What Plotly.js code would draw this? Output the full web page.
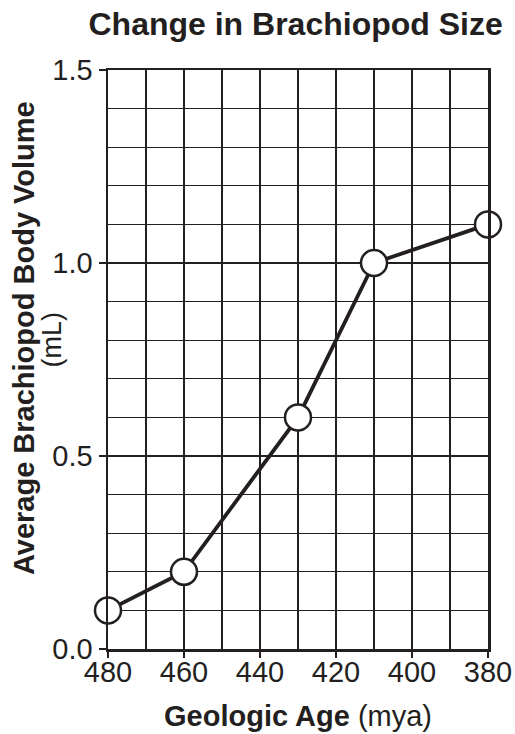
<!DOCTYPE html>
<html><head><meta charset="utf-8">
<script src="https://cdn.plot.ly/plotly-3.0.1.min.js"></script>
<style>html,body{margin:0;padding:0;background:#fff}</style>
</head><body>
<div id="chart" style="width:515px;height:734px"></div>
<script>
const ages = [480, 460, 430, 410, 380];
const volumes = [0.1, 0.2, 0.6, 1.0, 1.1];
const xTicks = [480, 460, 440, 420, 400, 380];
const yTicks = [0.0, 0.5, 1.0, 1.5];
const yTickLabels = ['0.0', '0.5', '1.0', '1.5'];

const ink = '#231f20';
const font = 'Liberation Sans, Arial, Helvetica, sans-serif';

const trace = {
  x: ages, y: volumes, type: 'scatter', mode: 'lines+markers',
  line: {color: ink, width: 3.8},
  marker: {size: 26, color: '#fff', line: {color: ink, width: 2.5}},
  cliponaxis: false, hoverinfo: 'skip'
};

const layout = {
  width: 515, height: 734,
  margin: {l: 108, r: 27, t: 70, b: 85},
  paper_bgcolor: '#fff', plot_bgcolor: '#fff',
  showlegend: false,
  font: {family: font, color: ink, size: 29},
  title: {text: '<b>Change in Brachiopod Size</b>', font: {size: 32, color: ink, family: font},
          x: 0.574, xanchor: 'center', y: 0.968, yanchor: 'middle'},
  xaxis: {
    range: [480, 380], tickvals: xTicks, ticktext: xTicks.map(String),
    showgrid: true, gridcolor: ink, gridwidth: 1.3,
    minor: {dtick: 10, showgrid: true, gridcolor: ink, gridwidth: 1.3, ticks: ''},
    showline: true, linecolor: ink, linewidth: 2.5, mirror: true,
    ticks: 'outside', ticklen: 6, tickwidth: 1.5, tickcolor: ink,
    tickfont: {size: 29, color: ink, family: font},
    ticklabelstandoff: -10,
    zeroline: false, fixedrange: true,
    title: {text: ''}
  },
  yaxis: {
    range: [0, 1.5], tickvals: yTicks, ticktext: yTickLabels,
    showgrid: true, gridcolor: ink, gridwidth: 1.3,
    minor: {dtick: 0.1, showgrid: true, gridcolor: ink, gridwidth: 1.3, ticks: ''},
    showline: true, linecolor: ink, linewidth: 2.5, mirror: true,
    ticks: 'outside', ticklen: 7, tickwidth: 1.5, tickcolor: ink,
    tickfont: {size: 29, color: ink, family: font},
    zeroline: false, fixedrange: true,
    title: {text: ''}
  },
  annotations: [
    {text: '<b>Average Brachiopod Body Volume</b>', xref: 'paper', yref: 'paper',
     x: -0.221, y: 0.537, xanchor: 'center', yanchor: 'middle', textangle: -90, showarrow: false,
     font: {size: 29, color: ink, family: font}},
    {text: '(mL)', xref: 'paper', yref: 'paper',
     x: -0.147, y: 0.535, xanchor: 'center', yanchor: 'middle', textangle: -90, showarrow: false,
     font: {size: 27, color: ink, family: font}},
    {text: '<b>Geologic Age</b> (mya)', xref: 'paper', yref: 'paper',
     x: 0.5, y: -0.1157, xanchor: 'center', yanchor: 'middle', showarrow: false,
     font: {size: 29, color: ink, family: font}}
  ]
};

Plotly.newPlot('chart', [trace], layout, {displayModeBar: false, staticPlot: true});
</script>
</body></html>
